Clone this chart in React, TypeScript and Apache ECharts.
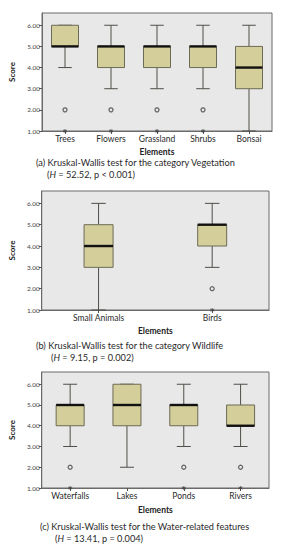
import React, { useEffect, useRef } from "react";
import * as echarts from "echarts";

// ---------- data ----------
const vegCategories = ["Trees", "Flowers", "Grassland", "Shrubs", "Bonsai"];
// [min, Q1, median, Q3, max]
const vegBoxes = [
  [4, 5, 5, 6, 6],
  [3, 4, 5, 5, 6],
  [3, 4, 5, 5, 6],
  [3, 4, 5, 5, 6],
  [1, 3, 4, 5, 6],
];
const vegOutliers = [[0, 2], [1, 2], [2, 2], [3, 2]];
const vegExtremes = [[0, 1], [1, 1], [2, 1], [3, 1]];

const wildCategories = ["Small Animals", "Birds"];
const wildBoxes = [
  [1, 3, 4, 5, 6],
  [3, 4, 5, 5, 6],
];
const wildOutliers = [[1, 2]];
const wildExtremes = [[1, 1]];

const waterCategories = ["Waterfalls", "Lakes", "Ponds", "Rivers"];
const waterBoxes = [
  [3, 4, 5, 5, 6],
  [2, 4, 5, 6, 6],
  [3, 4, 5, 5, 6],
  [3, 4, 4, 5, 6],
];
const waterOutliers = [[0, 2], [2, 2], [3, 2]];
const waterExtremes = [[0, 1], [2, 1], [3, 1]];

const yTicks = [1, 2, 3, 4, 5, 6];

const captions = [
  { line1: "(a) Kruskal-Wallis test for the category Vegetation", stat: " = 52.52, p < 0.001)" },
  { line1: "(b) Kruskal-Wallis test for the category Wildlife", stat: " = 9.15, p = 0.002)" },
  { line1: "(c) Kruskal-Wallis test for the Water-related features", stat: " = 13.41, p = 0.004)" },
];

// ---------- styling ----------
const FONT = "Lato";
const BOX_FILL = "#d4ce9b";
const BOX_STROKE = "#6d6a55";
const WHISKER = "#4e4e48";
const PLOT_BG = "#e8e8e8";
const CAP_SIZE = 9.2;

function makeRenderBox(boxW: number) {
  return (params: any, api: any) => {
    const c = api.value(0);
    const pMin = api.coord([c, api.value(1)]);
    const pQ1 = api.coord([c, api.value(2)]);
    const pMed = api.coord([c, api.value(3)]);
    const pQ3 = api.coord([c, api.value(4)]);
    const pMax = api.coord([c, api.value(5)]);
    const cx = pMin[0];
    const hw = boxW / 2;
    const cw = boxW / 4;
    const ls = { stroke: WHISKER, lineWidth: 1, fill: null };
    return {
      type: "group",
      children: [
        { type: "line", shape: { x1: cx, y1: pMax[1], x2: cx, y2: pQ3[1] }, style: ls },
        { type: "line", shape: { x1: cx, y1: pQ1[1], x2: cx, y2: pMin[1] }, style: ls },
        { type: "line", shape: { x1: cx - cw, y1: pMax[1], x2: cx + cw, y2: pMax[1] }, style: ls },
        { type: "line", shape: { x1: cx - cw, y1: pMin[1], x2: cx + cw, y2: pMin[1] }, style: ls },
        {
          type: "rect",
          shape: { x: cx - hw, y: pQ3[1], width: boxW, height: pQ1[1] - pQ3[1] },
          style: { fill: BOX_FILL, stroke: BOX_STROKE, lineWidth: 1 },
        },
        {
          type: "line",
          shape: { x1: cx - hw, y1: pMed[1], x2: cx + hw, y2: pMed[1] },
          style: { stroke: "#111", lineWidth: 2.4 },
        },
      ],
    };
  };
}

const panels = [
  {
    cats: vegCategories, boxes: vegBoxes, outl: vegOutliers, ext: vegExtremes,
    grid: { left: 42, top: 13, width: 230, height: 118 }, max: 6.58, boxW: 27,
    scoreGap: 20, elemGap: 16, cap: captions[0], capX: 36, capY: 164, capX2: 47,
  },
  {
    cats: wildCategories, boxes: wildBoxes, outl: wildOutliers, ext: wildExtremes,
    grid: { left: 40, top: 191, width: 229, height: 119 }, max: 6.58, boxW: 29,
    scoreGap: 24, elemGap: 16, cap: captions[1], capX: 36, capY: 347, capX2: 51,
  },
  {
    cats: waterCategories, boxes: waterBoxes, outl: waterOutliers, ext: waterExtremes,
    grid: { left: 40, top: 372, width: 229, height: 116 }, max: 6.59, boxW: 28,
    scoreGap: 22, elemGap: 17, cap: captions[2], capX: 40, capY: 528, capX2: 55,
  },
];

const ASTERISK = "path://M5 0 L5 10 M0.7 2.5 L9.3 7.5 M0.7 7.5 L9.3 2.5";

function buildOption() {
  const grid: any[] = [];
  const xAxis: any[] = [];
  const yAxis: any[] = [];
  const series: any[] = [];
  const graphic: any[] = [];

  panels.forEach((p, i) => {
    grid.push({
      ...p.grid,
      show: true,
      backgroundColor: PLOT_BG,
      borderColor: "#6a6a6a",
      borderWidth: 1,
    });
    xAxis.push({
      type: "category",
      gridIndex: i,
      data: p.cats,
      name: "Elements",
      nameLocation: "middle",
      nameGap: p.elemGap,
      nameTextStyle: { fontFamily: FONT, fontWeight: "bold", fontSize: 8.5, color: "#222" },
      axisLine: { show: true, lineStyle: { color: "#6a6a6a" } },
      axisTick: { show: true, alignWithLabel: true, length: 3, lineStyle: { color: "#555" } },
      axisLabel: {
        fontFamily: FONT, fontSize: 8.5, color: "#2a2a2a", margin: 3,
        interval: 0, hideOverlap: false,
      },
      splitLine: { show: false },
    });
    yAxis.push({
      type: "value",
      gridIndex: i,
      min: 1,
      max: p.max,
      interval: 1,
      name: "Score",
      nameLocation: "middle",
      nameRotate: 90,
      nameGap: p.scoreGap,
      nameTextStyle: { fontFamily: FONT, fontWeight: "bold", fontSize: 8, color: "#222" },
      axisLine: { show: true, lineStyle: { color: "#6a6a6a" } },
      axisTick: { show: true, length: 3, customValues: yTicks, lineStyle: { color: "#555" } },
      axisLabel: {
        fontFamily: FONT, fontSize: 6.5, color: "#444", margin: 2,
        customValues: yTicks,
        formatter: (v: number) => v.toFixed(2),
      },
      splitLine: { show: false },
    });
    series.push({
      type: "custom",
      xAxisIndex: i,
      yAxisIndex: i,
      renderItem: makeRenderBox(p.boxW),
      encode: { x: 0, y: [1, 2, 3, 4, 5] },
      data: p.boxes.map((b, k) => [k, ...b]),
      z: 2,
    });
    series.push({
      type: "scatter",
      xAxisIndex: i,
      yAxisIndex: i,
      symbol: "circle",
      symbolSize: 4,
      itemStyle: { color: "#eeeeee", borderColor: "#444", borderWidth: 1.3 },
      data: p.outl,
      z: 3,
    });
    series.push({
      type: "scatter",
      xAxisIndex: i,
      yAxisIndex: i,
      symbol: ASTERISK,
      symbolSize: 4,
      itemStyle: { color: "none", borderColor: "#444", borderWidth: 1 },
      data: p.ext,
      z: 3,
    });
    graphic.push({
      type: "text",
      left: p.capX,
      top: p.capY - 6,
      style: {
        text: p.cap.line1,
        fontFamily: FONT,
        fontSize: CAP_SIZE,
        fill: "#2a2a2a",
      },
    });
    graphic.push({
      type: "text",
      left: p.capX2,
      top: p.capY + 6,
      style: {
        text: "({i|H}" + p.cap.stat,
        fontFamily: FONT,
        fontSize: CAP_SIZE,
        fill: "#2a2a2a",
        rich: { i: { fontStyle: "italic", fontFamily: FONT, fontSize: CAP_SIZE, fill: "#2a2a2a" } },
      },
    });
  });

  return {
    animation: false,
    backgroundColor: "#ffffff",
    grid,
    xAxis,
    yAxis,
    series,
    graphic,
  };
}

export default function App() {
  const ref = useRef<HTMLDivElement>(null);
  useEffect(() => {
    if (!ref.current) return;
    const chart = echarts.init(ref.current, undefined, { renderer: "svg" });
    chart.setOption(buildOption() as any);
    return () => chart.dispose();
  }, []);
  return (
    <div
      ref={ref}
      style={{ position: "absolute", left: 0, top: 0, width: 285, height: 550 }}
    />
  );
}
